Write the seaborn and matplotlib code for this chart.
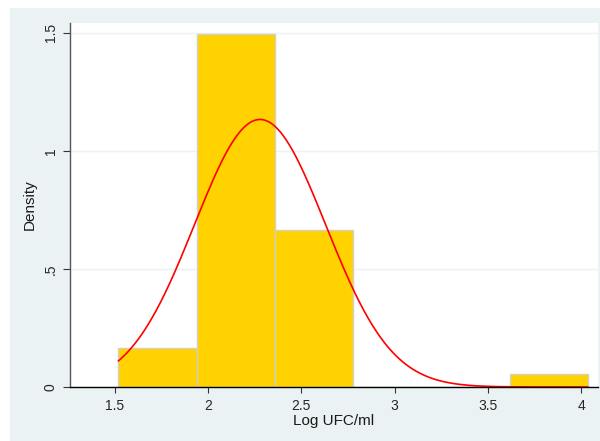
import numpy as np
import pandas as pd
import matplotlib
matplotlib.use("Agg")
import matplotlib.pyplot as plt
from matplotlib.patches import Rectangle
import seaborn as sns

# ---- data ----
bin_edges = [1.518, 1.938, 2.358, 2.778, 3.198, 3.618, 4.038]
bin_density = [0.166, 1.495, 0.664, 0.0, 0.0, 0.055]
normal_mean = 2.278
normal_sd = 0.352
x_ticks = [1.5, 2, 2.5, 3, 3.5, 4]
x_tick_labels = ["1.5", "2", "2.5", "3", "3.5", "4"]
y_ticks = [0, 0.5, 1, 1.5]
y_tick_labels = ["0", ".5", "1", "1.5"]
x_title = "Log UFC/ml"
y_title = "Density"

sns.set_theme(style="white")
plt.rcParams["font.family"] = ["Liberation Sans", "DejaVu Sans"]

fig = plt.figure(figsize=(6.0, 4.41), dpi=100, facecolor="white")
# Stata-like outer graph region
fig.patches.append(Rectangle((10 / 600, 0), 590 / 600, 433 / 441,
                             transform=fig.transFigure, facecolor="#EAF2F3",
                             edgecolor="none", zorder=-10))
ax = fig.add_axes([70 / 600, 1 - 387 / 441, 528 / 600, 364 / 441])
ax.set_facecolor("white")

centers = [(a + b) / 2 for a, b in zip(bin_edges[:-1], bin_edges[1:])]
hist_df = pd.DataFrame({"x": centers, "w": bin_density})
sns.histplot(data=hist_df, x="x", weights="w", bins=bin_edges, stat="count",
             color="#FFD200", edgecolor="#D4D0C2", linewidth=1.0, alpha=1.0,
             ax=ax, zorder=2)

xs = np.linspace(bin_edges[0], bin_edges[-1], 300)
ys = np.exp(-0.5 * ((xs - normal_mean) / normal_sd) ** 2) / (normal_sd * np.sqrt(2 * np.pi))
curve_df = pd.DataFrame({"x": xs, "y": ys})
sns.lineplot(data=curve_df, x="x", y="y", color="#FF0000", linewidth=1.2,
             ax=ax, zorder=3)

ax.set_xlim(1.2586, 4.091)
ax.set_ylim(0, 1.542)
ax.set_xticks(x_ticks)
ax.set_xticklabels(x_tick_labels)
ax.set_yticks(y_ticks)
ax.set_yticklabels(y_tick_labels, rotation=90, va="center")

ax.grid(axis="y", color="#EAF2F3", linewidth=1.0, zorder=0)
ax.set_axisbelow(True)
for s in ["top", "right"]:
    ax.spines[s].set_visible(False)
ax.spines["left"].set_color("#555555")
ax.spines["left"].set_linewidth(1.0)
ax.spines["bottom"].set_color("#000000")
ax.spines["bottom"].set_linewidth(1.0)
ax.spines["bottom"].set_zorder(4)

ax.tick_params(axis="x", direction="out", length=4.5, width=0.8, color="#333333",
               labelsize=10, pad=4, bottom=True)
ax.tick_params(axis="y", direction="out", length=5, width=0.8, color="#333333",
               labelsize=10, pad=4, left=True)

ax.set_xlabel(x_title, fontsize=11, labelpad=1, color="#1a1a1a")
ax.set_ylabel(y_title, fontsize=11, labelpad=5, color="#1a1a1a")

fig.savefig("out.png", dpi=100, facecolor="white")
